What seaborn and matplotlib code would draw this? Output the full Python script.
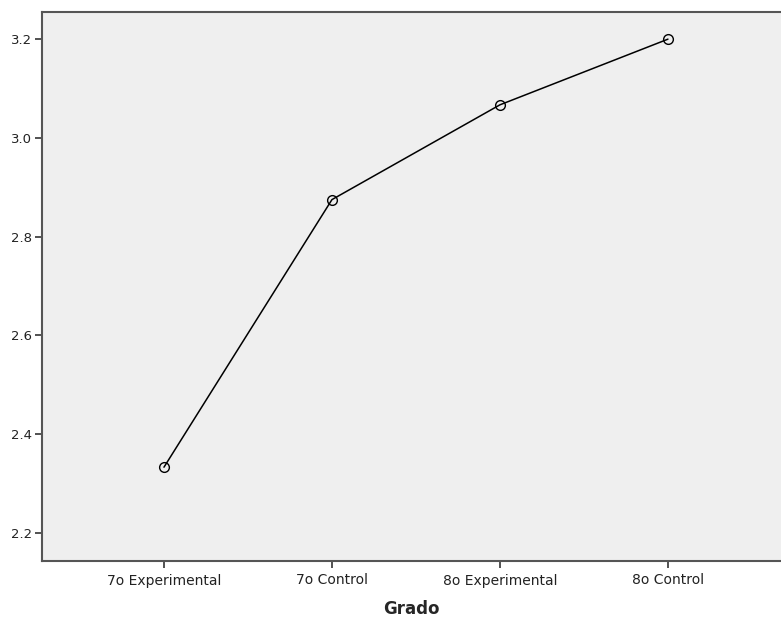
import pandas as pd
import matplotlib
matplotlib.use("Agg")
import matplotlib.pyplot as plt
import seaborn as sns

grupos = ["7o Experimental", "7o Control", "8o Experimental", "8o Control"]
medias = [2.333, 2.875, 3.067, 3.200]
yticks = [2.2, 2.4, 2.6, 2.8, 3.0, 3.2]

df = pd.DataFrame({"Grado": grupos, "Media": medias})

sns.set_style("white")
plt.rcParams["font.family"] = ["DejaVu Sans"]

fig = plt.figure(figsize=(7.81, 6.17), dpi=100)
ax = fig.add_axes([42 / 781, 56 / 617, 1 - 42 / 781, (561 - 12) / 617])
ax.set_facecolor("#efefef")

sns.lineplot(data=df, x="Grado", y="Media", ax=ax, color="black", lw=1.1,
             marker="o", markersize=7, markerfacecolor="none",
             markeredgecolor="black", markeredgewidth=1.0, sort=False)

ax.set_xlim(-0.726, 3.673)
ax.set_ylim(2.143, 3.255)
ax.set_yticks(yticks)
ax.set_yticklabels([f"{v:.1f}" for v in yticks])

for side in ["left", "bottom", "top"]:
    ax.spines[side].set_color("#555555")
    ax.spines[side].set_linewidth(1.5)
ax.spines["right"].set_visible(False)
ax.tick_params(axis="both", direction="out", length=5, width=1.2, color="#333333",
               labelcolor="#222222", left=True, bottom=True)
ax.tick_params(axis="x", labelsize=10, pad=4)
ax.tick_params(axis="y", labelsize=9.5, pad=2)

ax.set_xlabel("Grado", fontsize=12, fontweight="bold", labelpad=9)
ax.set_ylabel("")

plt.savefig("out.png", dpi=100)
